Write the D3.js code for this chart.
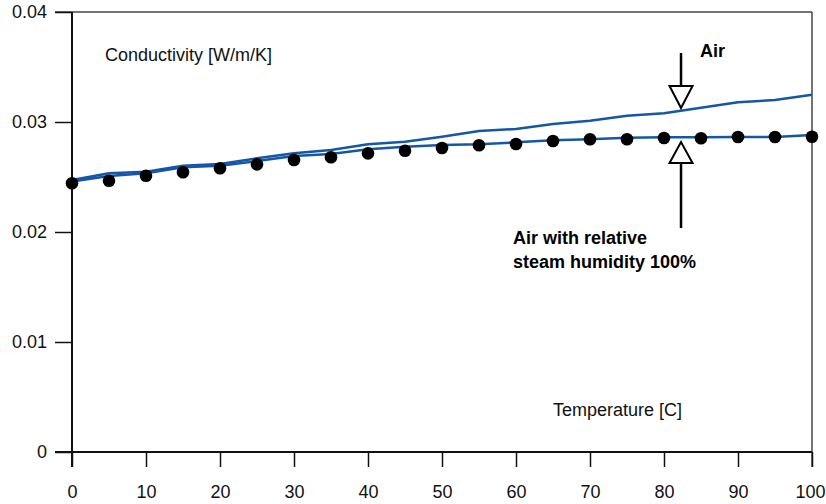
<!DOCTYPE html>
<html>
<head>
<meta charset="utf-8">
<script src="https://cdn.jsdelivr.net/npm/d3@7/dist/d3.min.js"></script>
<style>
  html, body { margin: 0; padding: 0; background: #fff; }
  svg { display: block; font-family: "Liberation Sans", Arial, sans-serif; }
</style>
</head>
<body>
<svg id="chart" width="826" height="504"></svg>
<script>
// Temperature steps [C]
const temperatures = [0, 5, 10, 15, 20, 25, 30, 35, 40, 45, 50, 55, 60, 65, 70, 75, 80, 85, 90, 95, 100];

// Thermal conductivity of dry air [W/m/K]
const airConductivity = [0.02473, 0.02534, 0.02548, 0.02603, 0.02618, 0.0267, 0.02715, 0.02745, 0.02797, 0.02821,
  0.02866, 0.02918, 0.02936, 0.02982, 0.03012, 0.03057, 0.03079, 0.0313, 0.03179, 0.032, 0.03248];

// Thermal conductivity of air at 100% relative humidity (curve)
const humidConductivity = [0.02459, 0.02509, 0.02534, 0.02588, 0.02603, 0.02645, 0.02691, 0.02709, 0.02752, 0.02775,
  0.02791, 0.02797, 0.02815, 0.02834, 0.02843, 0.02857, 0.02861, 0.02861, 0.02864, 0.02864, 0.02882];

// Point values for humid air
const humidPoints = [0.02443, 0.02466, 0.02512, 0.02543, 0.02579, 0.02615, 0.02655, 0.02679, 0.02715, 0.02739,
  0.02764, 0.02788, 0.028, 0.02827, 0.02843, 0.02843, 0.02855, 0.02852, 0.02864, 0.02864, 0.02866];

const xTicks = [0, 10, 20, 30, 40, 50, 60, 70, 80, 90, 100];
const yTicks = [0, 0.01, 0.02, 0.03, 0.04];
const yTickLabels = ["0", "0.01", "0.02", "0.03", "0.04"];

// Arrow annotations: temperature and conductivity extents
const arrowTemperature = 82.3;
const airArrow = { start: 0.03627, base: 0.03327, tip: 0.03127 };
const humidArrow = { start: 0.02036, base: 0.02627, tip: 0.02818 };

const svg = d3.select("#chart");
const width = 826;
const plotLeft = 72, plotRight = 812, plotTop = 12, plotBottom = 452;

const x = d3.scaleLinear().domain([0, 100]).range([plotLeft, plotRight]);
const y = d3.scaleLinear().domain([0, 0.04]).range([plotBottom, plotTop]);

const BLUE = "#1557a6";
const FONT = 18;
const FAMILY = "'Liberation Sans', Arial, sans-serif";

// Frame: top and right borders
svg.append("line").attr("x1", plotLeft - 17).attr("x2", plotRight).attr("y1", plotTop).attr("y2", plotTop)
  .attr("stroke", "#444").attr("stroke-width", 1.5);
svg.append("line").attr("x1", plotRight).attr("x2", plotRight).attr("y1", plotTop).attr("y2", plotBottom + 15)
  .attr("stroke", "#444").attr("stroke-width", 1.5);

// Y axis
const yAxis = svg.append("g").attr("transform", `translate(${plotLeft},0)`)
  .call(d3.axisLeft(y).tickValues(yTicks).tickSize(17).tickSizeOuter(0).tickPadding(8)
    .tickFormat((d, i) => yTickLabels[i]));
yAxis.select(".domain").remove();
yAxis.selectAll(".tick line").attr("stroke", "#111").attr("stroke-width", 1.5);
yAxis.selectAll(".tick text").attr("font-size", FONT).attr("fill", "#111").style("font-family", FAMILY);
svg.append("line").attr("x1", plotLeft).attr("x2", plotLeft).attr("y1", plotTop).attr("y2", plotBottom + 15)
  .attr("stroke", "#111").attr("stroke-width", 2);

// X axis
const xAxis = svg.append("g").attr("transform", `translate(0,${plotBottom})`)
  .call(d3.axisBottom(x).tickValues(xTicks).tickSize(15).tickSizeOuter(0).tickPadding(18)
    .tickFormat(d3.format("d")));
xAxis.select(".domain").remove();
xAxis.selectAll(".tick line").attr("stroke", "#111").attr("stroke-width", 1.5);
xAxis.selectAll(".tick text").attr("font-size", FONT).attr("fill", "#111").style("font-family", FAMILY);
// keep the last label inside the page edge
xAxis.selectAll(".tick text").filter(d => d === xTicks[xTicks.length - 1])
  .attr("text-anchor", "end").attr("x", width - 1 - x(xTicks[xTicks.length - 1]));
svg.append("line").attr("x1", plotLeft - 17).attr("x2", plotRight).attr("y1", plotBottom).attr("y2", plotBottom)
  .attr("stroke", "#111").attr("stroke-width", 2);

// Curves
const line = d3.line().x((d, i) => x(temperatures[i])).y(d => y(d));
svg.append("path").datum(airConductivity).attr("d", line)
  .attr("fill", "none").attr("stroke", BLUE).attr("stroke-width", 2.5).attr("stroke-linejoin", "round");
svg.append("path").datum(humidConductivity).attr("d", line)
  .attr("fill", "none").attr("stroke", BLUE).attr("stroke-width", 2.5).attr("stroke-linejoin", "round");

// Points
svg.append("g").selectAll("circle").data(humidPoints).join("circle")
  .attr("cx", (d, i) => x(temperatures[i])).attr("cy", d => y(d)).attr("r", 6.3).attr("fill", "#000");

// Axis captions
svg.append("text").attr("x", 105).attr("y", 61).attr("font-size", FONT).attr("fill", "#111")
  .text("Conductivity [W/m/K]");
svg.append("text").attr("x", 553).attr("y", 416).attr("font-size", FONT).attr("fill", "#111")
  .text("Temperature [C]");

// Arrows
function arrow(spec) {
  const ax = x(arrowTemperature);
  const yb = y(spec.base), yt = y(spec.tip), ys = y(spec.start);
  svg.append("line").attr("x1", ax).attr("x2", ax).attr("y1", ys).attr("y2", yb)
    .attr("stroke", "#000").attr("stroke-width", 2.5);
  svg.append("path")
    .attr("d", `M${ax - 11.5},${yb} L${ax + 11.5},${yb} L${ax},${yt} Z`)
    .attr("fill", "#fff").attr("stroke", "#000").attr("stroke-width", 2).attr("stroke-linejoin", "miter");
}
arrow(airArrow);
arrow(humidArrow);

// Series labels
svg.append("text").attr("x", 700).attr("y", 57).attr("font-size", FONT).attr("font-weight", "bold")
  .attr("fill", "#000").text("Air");
const hl = svg.append("text").attr("x", 513).attr("y", 244).attr("font-size", FONT)
  .attr("font-weight", "bold").attr("fill", "#000");
hl.append("tspan").attr("x", 513).text("Air with relative");
hl.append("tspan").attr("x", 513).attr("y", 268).text("steam humidity 100%");
</script>
</body>
</html>
